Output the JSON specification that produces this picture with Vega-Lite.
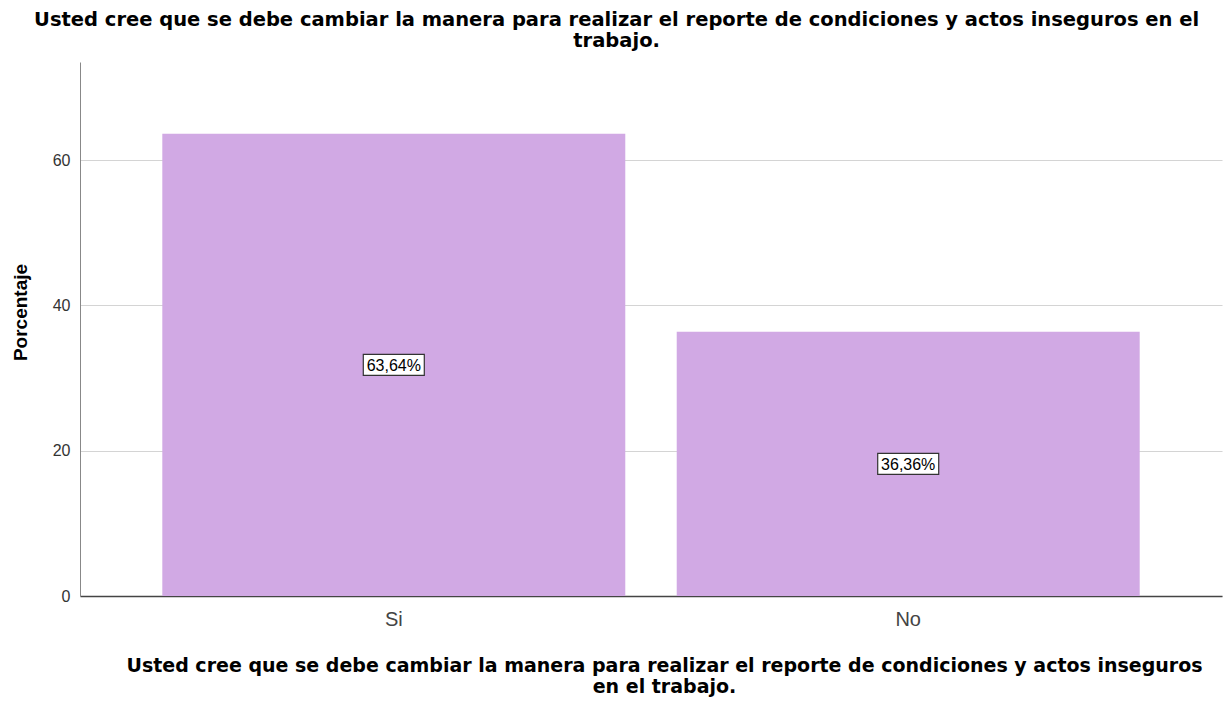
{
  "$schema": "https://vega.github.io/schema/vega-lite/v6.json",
  "width": 1142,
  "height": 534,
  "autosize": {"type": "none"},
  "padding": {"left": 80, "top": 62, "right": 5, "bottom": 110},
  "background": "white",
  "title": {
    "text": ["Usted cree que se debe cambiar la manera para realizar el reporte de condiciones y actos inseguros en el", "trabajo."],
    "anchor": "middle",
    "frame": "bounds",
    "font": "DejaVu Sans",
    "fontSize": 19.5,
    "fontWeight": "bold",
    "color": "#000000",
    "lineHeight": 21,
    "offset": 11
  },
  "config": {
    "view": {"stroke": null},
    "font": "Liberation Sans"
  },
  "data": {
    "values": [
      {"respuesta": "Si", "pct": 63.64, "etiqueta": "63,64%"},
      {"respuesta": "No", "pct": 36.36, "etiqueta": "36,36%"}
    ]
  },
  "transform": [{"calculate": "datum.pct / 2", "as": "mid"}],
  "encoding": {
    "x": {
      "field": "respuesta",
      "type": "nominal",
      "sort": ["Si", "No"],
      "scale": {"paddingInner": 0.1, "paddingOuter": 0.16},
      "axis": {
        "title": ["Usted cree que se debe cambiar la manera para realizar el reporte de condiciones y actos inseguros", "en el trabajo."],
        "titleFont": "DejaVu Sans",
        "titleFontSize": 19,
        "titleFontWeight": "bold",
        "titleColor": "#000000",
        "titleLineHeight": 21,
        "titlePadding": 27,
        "titleX": 584,
        "labelAngle": 0,
        "labelFont": "Liberation Sans",
        "labelFontSize": 20,
        "labelColor": "#444444",
        "labelPadding": 13,
        "ticks": false,
        "domainColor": "#444444",
        "domainWidth": 1.5,
        "grid": false
      }
    }
  },
  "layer": [
    {
      "mark": {"type": "bar", "color": "#D1A9E4"},
      "encoding": {
        "y": {
          "field": "pct",
          "type": "quantitative",
          "scale": {"domain": [0, 73.5], "nice": false},
          "axis": {
            "title": "Porcentaje",
            "titleFont": "Liberation Sans",
            "titleFontSize": 19,
            "titleFontWeight": "bold",
            "titleColor": "#000000",
            "titlePadding": 22,
            "titleY": 250,
            "values": [0, 20, 40, 60],
            "labelFont": "Liberation Sans",
            "labelFontSize": 16,
            "labelColor": "#333333",
            "labelPadding": 10,
            "ticks": false,
            "domainColor": "#888888",
            "domainWidth": 1,
            "grid": true,
            "gridColor": "#D4D4D4",
            "gridWidth": 1.2
          }
        }
      }
    },
    {
      "mark": {
        "type": "point",
        "shape": "M-1,-0.344L1,-0.344L1,0.344L-1,0.344Z",
        "size": 3721,
        "filled": true,
        "fill": "#FFFFFF",
        "stroke": "#333333",
        "strokeWidth": 1.2,
        "opacity": 1
      },
      "encoding": {
        "y": {"field": "mid", "type": "quantitative"}
      }
    },
    {
      "mark": {
        "type": "text",
        "fontSize": 16,
        "font": "Liberation Sans",
        "color": "#000000",
        "baseline": "middle",
        "align": "center",
        "dy": 1
      },
      "encoding": {
        "y": {"field": "mid", "type": "quantitative"},
        "text": {"field": "etiqueta"}
      }
    }
  ]
}
